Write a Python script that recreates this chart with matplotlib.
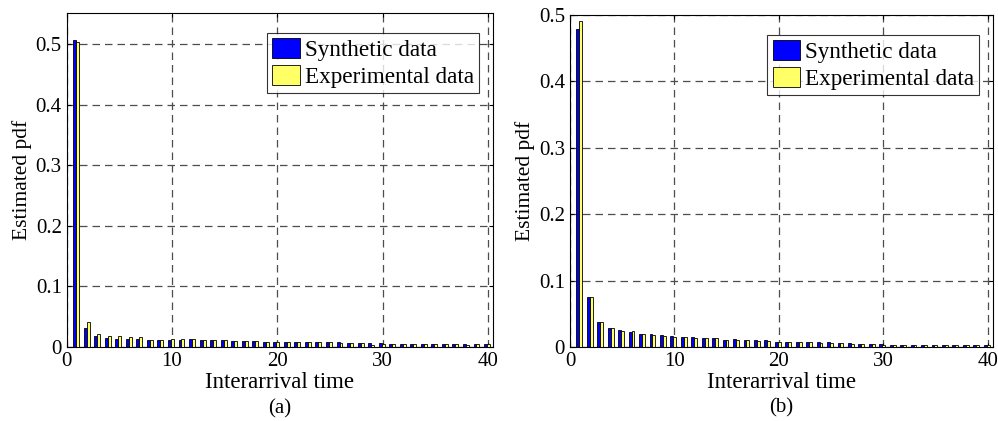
import numpy as np
import matplotlib.pyplot as plt

bins = np.arange(1, 41)

# (a) estimated pdf values per bin
synth_a = [0.507, 0.032, 0.018, 0.0145, 0.014, 0.013, 0.013, 0.012, 0.012, 0.0115,
           0.0115, 0.0125, 0.012, 0.0115, 0.011, 0.0105, 0.0105, 0.01, 0.009, 0.009,
           0.0085, 0.0085, 0.0083, 0.0082, 0.008, 0.0075, 0.007, 0.007, 0.007, 0.006,
           0.0055, 0.0055, 0.0055, 0.0055, 0.0055, 0.0053, 0.0047, 0.0044, 0.0044, 0.0044]
exper_a = [0.503, 0.041, 0.021, 0.018, 0.018, 0.016, 0.016, 0.012, 0.012, 0.0127,
           0.0132, 0.013, 0.012, 0.012, 0.0115, 0.0105, 0.0105, 0.0105, 0.009, 0.009,
           0.0085, 0.0085, 0.0083, 0.0082, 0.0075, 0.007, 0.0065, 0.007, 0.004, 0.0055,
           0.0055, 0.0055, 0.0055, 0.0055, 0.0055, 0.005, 0.0047, 0.004, 0.0044, 0.0044]

# (b)
synth_b = [0.479, 0.075, 0.038, 0.029, 0.025, 0.022, 0.020, 0.020, 0.0185, 0.016,
           0.015, 0.015, 0.013, 0.014, 0.011, 0.012, 0.011, 0.010, 0.010, 0.008,
           0.008, 0.0072, 0.0072, 0.0072, 0.007, 0.0055, 0.0055, 0.004, 0.004, 0.004,
           0.003, 0.003, 0.003, 0.003, 0.003, 0.003, 0.003, 0.003, 0.003, 0.003]
exper_b = [0.490, 0.075, 0.0375, 0.028, 0.024, 0.0235, 0.020, 0.0185, 0.017, 0.0155,
           0.015, 0.013, 0.0135, 0.013, 0.011, 0.011, 0.010, 0.009, 0.009, 0.007,
           0.007, 0.0072, 0.0072, 0.0065, 0.006, 0.0055, 0.005, 0.004, 0.004, 0.003,
           0.003, 0.003, 0.003, 0.003, 0.003, 0.003, 0.003, 0.003, 0.003, 0.003]

yticks = [0, 0.1, 0.2, 0.3, 0.4, 0.5]
tick_labels_y = ["0", "0.1", "0.2", "0.3", "0.4", "0.5"]
xticks = [0, 10, 20, 30, 40]

plt.rcParams['font.family'] = ['Liberation Serif', 'DejaVu Serif']

fig = plt.figure(figsize=(9.98, 4.21), dpi=100)
ax_a = fig.add_axes([0.0668, 0.1758, 0.4275, 0.7933])
ax_b = fig.add_axes([0.5711, 0.1758, 0.4238, 0.7890])


def draw_panel(ax, synth, exper, ymax, tag, leg_anchor):
    w = 0.28
    pos = bins - 0.1
    ax.bar(pos - w / 2, synth, width=w, color='#0000ff', edgecolor='black',
           linewidth=0.6, label='Synthetic data', zorder=3)
    ax.bar(pos + w / 2, exper, width=w, color='#ffff66', edgecolor='black',
           linewidth=0.6, label='Experimental data', zorder=3)
    ax.set_xlim(0, 40.5)
    ax.set_ylim(0, ymax)
    ax.set_xticks(xticks)
    ax.set_yticks(yticks)
    ax.set_yticklabels(tick_labels_y)
    ax.tick_params(direction='in', labelsize=15, length=3, top=True, right=True)
    ax.grid(True, color='#4d4d4d', linestyle=(0, (6, 4)), linewidth=0.9)
    ax.set_axisbelow(True)
    for s in ax.spines.values():
        s.set_linewidth(0.8)
    ax.set_xlabel('Interarrival time', fontsize=16.5, labelpad=1)
    ax.set_ylabel('Estimated pdf', fontsize=15.5, labelpad=3)
    ax.text(0.5, -0.155, tag, transform=ax.transAxes, ha='center', va='top', fontsize=15)
    leg = ax.legend(loc='upper right', bbox_to_anchor=leg_anchor, fontsize=16.7,
                    frameon=True, fancybox=False, handlelength=1.2, handleheight=0.95,
                    handletextpad=0.2, borderpad=0.22, labelspacing=0.15, borderaxespad=0)
    leg.get_frame().set_edgecolor('black')
    leg.get_frame().set_linewidth(0.8)


draw_panel(ax_a, synth_a, exper_a, 0.551, '(a)', (0.9665, 0.94))
draw_panel(ax_b, synth_b, exper_b, 0.5, '(b)', (0.9676, 0.939))

fig.savefig('out.png', dpi=100)
